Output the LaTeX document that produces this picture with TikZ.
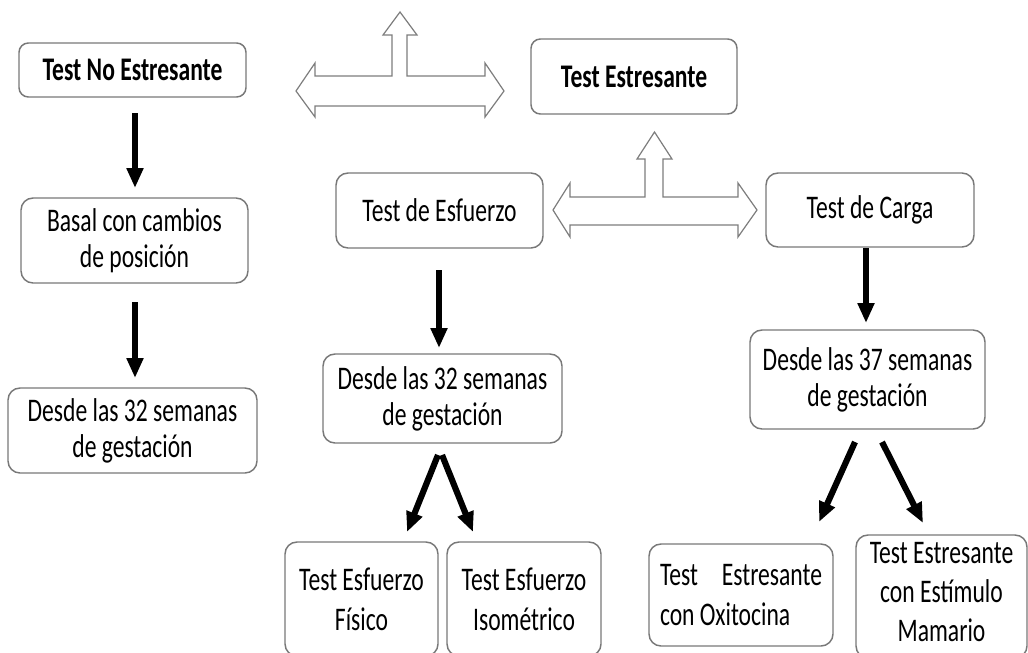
\documentclass[tikz,border=0pt]{standalone}
\usepackage{fontspec}
\setmainfont{Carlito}[FakeStretch=0.715]
\usetikzlibrary{arrows.meta}
\definecolor{boxgray}{RGB}{120,120,120}
\definecolor{arrgray}{RGB}{125,125,125}
\begin{document}
\begin{tikzpicture}[x=0.75pt,y=-0.75pt,
  box/.style={draw=boxgray, line width=1.1pt, rounded corners=9pt, fill=white,
    align=center, inner sep=0pt, text=black,
    font=\fontsize{24.75pt}{27pt}\selectfont},
  wide/.style={font=\fontsize{24.75pt}{30pt}\selectfont},
  hdr/.style={font=\fontsize{24.75pt}{27pt}\selectfont\bfseries, rounded corners=7pt},
  wh/.style n args={2}{minimum width=#1*0.75pt, minimum height=#2*0.75pt},
  arr/.style={line width=4.6pt, -{Triangle[length=15pt,width=12pt]}},
  blockarrow/.style={draw=arrgray, line width=0.9pt, fill=white, line join=miter}
]
\useasboundingbox (0,0) rectangle (1028,653);

% boxes
\node[box,hdr,wh={227}{54}] (tne) at (132.5,70) {Test No Estresante};
\node[box,hdr,wh={206}{75}] (te) at (634,76.5) {Test Estresante};
\node[box,wh={227}{85}] (basal) at (134.5,240.5) {Basal con cambios\\de posición};
\node[box,wh={249}{85}] (d32a) at (132.5,430.5) {Desde las 32 semanas\\de gestación};
\node[box,wh={207}{75}] (tesf) at (439.5,210.5) {Test de Esfuerzo};
\node[box,wh={208}{74}] (tcar) at (870,210) {Test de Carga};
\node[box,wh={239}{89}] (d32b) at (442.5,398.5) {Desde las 32 semanas\\de gestación};
\node[box,wh={235}{99}] (d37) at (867.5,379.5) {Desde las 37 semanas\\de gestación};
\node[box,wide,wh={153}{114}] (fis) at (361.5,599) {Test Esfuerzo\\Físico};
\node[box,wide,wh={154}{114}] (iso) at (524,599) {Test Esfuerzo\\Isométrico};
\node[box,wide,align=left,wh={184}{102}] (oxi) at (741,595) {\makebox[121.5pt][s]{Test\hfill Estresante}\\con Oxitocina};
\node[box,font=\fontsize{24.75pt}{29.5pt}\selectfont,wh={171}{123}] (mam) at (941.5,596.5) {};
\node[align=center,inner sep=0pt,font=\fontsize{24.75pt}{29.5pt}\selectfont] (mamtxt) at (941.5,592) {Test Estresante\\con Estímulo\\Mamario};

% block arrows
\draw[blockarrow] (296,91) -- (315,63) -- (315,76) -- (392,76) -- (392,35) -- (383,35)
  -- (400,12) -- (417,35) -- (407,35) -- (407,76) -- (485,76) -- (485,63) -- (504,91)
  -- (485,117) -- (485,106) -- (315,106) -- (315,117) -- cycle;
\draw[blockarrow] (553,210) -- (570,183) -- (570,197) -- (645,197) -- (645,159) -- (637,159)
  -- (654.5,132) -- (672,159) -- (663,159) -- (663,197) -- (738,197) -- (738,183) -- (757,210)
  -- (738,237) -- (738,225) -- (570,225) -- (570,237) -- cycle;

% connector end points
\coordinate (a1s) at (135,113); \coordinate (a1e) at (135,188);
\coordinate (a2s) at (135,302); \coordinate (a2e) at (135,378);
\coordinate (a3s) at (439,270); \coordinate (a3e) at (439,348);
\coordinate (a4s) at (866,248); \coordinate (a4e) at (866,323);
\coordinate (a5s) at (438,455); \coordinate (a5e) at (407,532);
\coordinate (a6s) at (442,455); \coordinate (a6e) at (473,532);
\coordinate (a7s) at (855,442); \coordinate (a7e) at (819,522);
\coordinate (a8s) at (882,442); \coordinate (a8e) at (923,523);

\draw[arr] (a1s) -- (a1e);
\draw[arr] (a2s) -- (a2e);
\draw[arr] (a3s) -- (a3e);
\draw[arr] (a4s) -- (a4e);
\draw[arr] (a5s) -- (a5e);
\draw[arr] (a6s) -- (a6e);
\draw[arr] (a7s) -- (a7e);
\draw[arr] (a8s) -- (a8e);
\end{tikzpicture}
\end{document}
